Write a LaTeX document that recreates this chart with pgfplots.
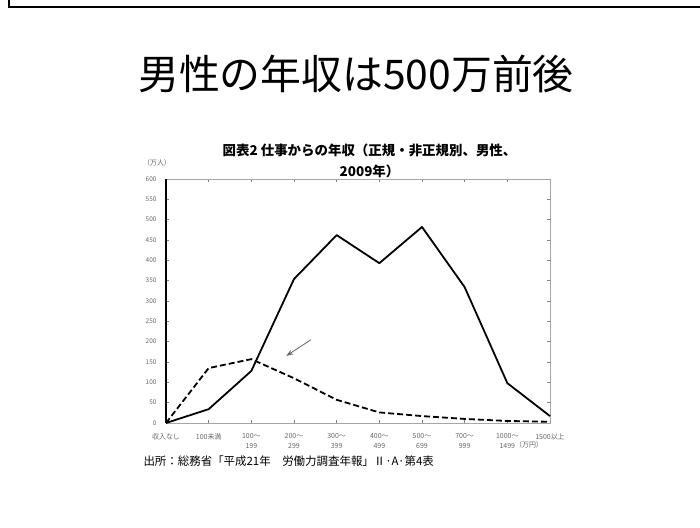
\documentclass[border=0pt]{standalone}
\usepackage{fontspec}
\setmainfont{Noto Sans CJK JP}
\usepackage{pgfplots}
\pgfplotsset{compat=1.18}
\usetikzlibrary{arrows.meta}

\pgfplotstableread{
idx regular nonregular
0   0    0
1   34   135
2   128  157
3   354  110
4   462  57
5   393  26
6   482  17
7   334  10
8   98   5
9   17   3
}\incomedata

\begin{document}
\begin{tikzpicture}[x=1bp,y=1bp]
\useasboundingbox (0,0) rectangle (700,528);
% slide frame (only top and left edges visible)
\draw[line width=2.5bp] (9,528) -- (9,521) -- (700,521);
% slide title
\node[font=\fontsize{41}{44}\selectfont] at (356,454) {男性の年収は500万前後};

\begin{axis}[
    at={(166bp,105bp)}, anchor=south west,
    width=384bp, height=244bp, scale only axis,
    xmin=0, xmax=9, ymin=0, ymax=600,
    clip=false,
    axis line style={gray!70, line width=0.6bp},
    xtick={0,...,9},
    xticklabels={収入なし,100未満,{100～\\199},{200～\\299},{300～\\399},{400～\\499},{500～\\699},{700～\\999},{1000～\\1499},{1500以上}},
    ytick={0,50,...,600},
    tick align=inside,
    major tick length=3bp,
    tick style={gray, line width=0.5bp},
    xticklabel style={font=\fontsize{7}{10}\selectfont, text=gray!80!black, align=center, anchor=north, yshift=-7bp},
    yticklabel style={font=\fontsize{6.5}{8}\selectfont, text=gray!80!black, xshift=-6bp},
    /pgf/number format/assume math mode=true,
    title={\textbf{図表2 仕事からの年収（正規・非正規別、男性、}\\\textbf{2009年）}},
    title style={font=\fontsize{13.5}{21}\selectfont, align=center, at={(0.53,1)}, anchor=south, yshift=-8bp},
]
\addplot[black, line width=1.8bp, line join=round] table[x=idx, y=regular] {\incomedata};
\addplot[black, line width=1.8bp, dash pattern=on 6bp off 3bp] table[x=idx, y=nonregular] {\incomedata};
\draw[black, line width=1.2bp] (axis cs:0,0) -- (axis cs:0,600);
\draw[gray!80!black, line width=0.8bp, -{Stealth[length=7bp,width=5bp]}] (axis cs:3.4,205) -- (axis cs:2.82,165);
\end{axis}

\node[font=\fontsize{7}{8}\selectfont, text=gray!80!black] at (157,365) {（万人）};
\node[font=\fontsize{7}{8}\selectfont, text=gray!80!black] at (529,83) {（万円）};
\node[font=\fontsize{11.5}{13}\selectfont, anchor=west] at (140,67) {出所：総務省「平成21年　労働力調査年報」Ⅱ·A·第4表};
\end{tikzpicture}
\end{document}
